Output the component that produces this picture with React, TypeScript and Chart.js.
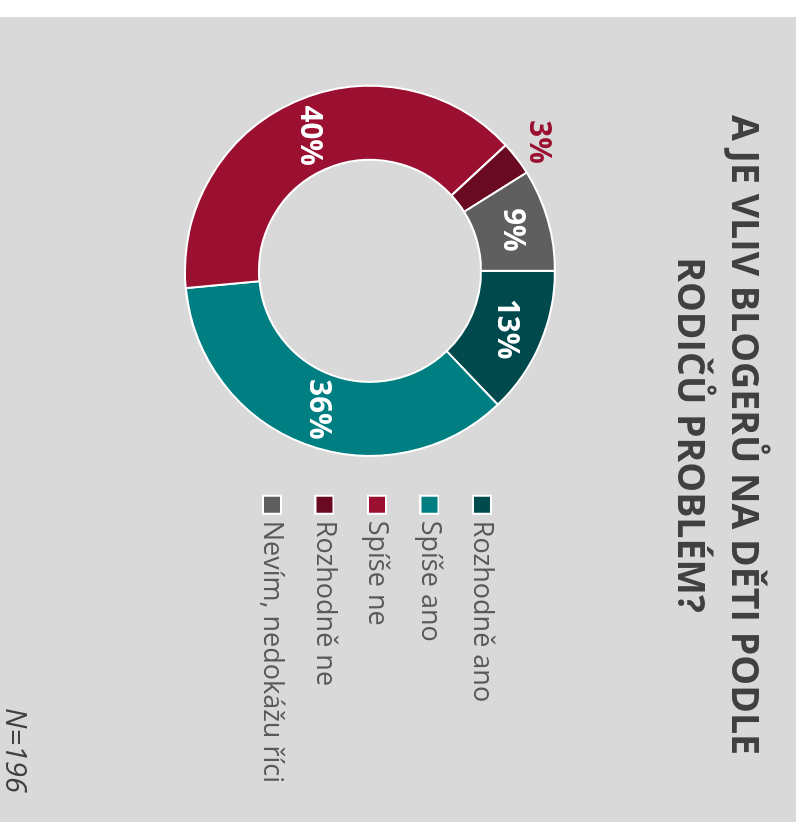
import React, { useEffect, useRef } from 'react';
import { Chart, registerables } from 'chart.js';

Chart.register(...registerables);

const categories = ['Rozhodně ano', 'Spíše ano', 'Spíše ne', 'Rozhodně ne', 'Nevím, nedokážu říci'];
const values = [13, 36, 40, 3, 9];
const colors = ['#004a4e', '#007f82', '#9b0f30', '#6a0a22', '#5f5f5f'];
const titleLines = ['A JE VLIV BLOGERŮ NA DĚTI PODLE', 'RODIČŮ PROBLÉM?'];
const footnote = 'N=196';

const FONT = '"Open Sans", "DejaVu Sans", sans-serif';

// legend marker: a white-edged square drawn a little to the right of the marker slot
function makeMarker(color: string): HTMLCanvasElement {
  const c = document.createElement('canvas');
  c.width = 40;
  c.height = 20;
  const g = c.getContext('2d')!;
  g.fillStyle = color;
  g.strokeStyle = '#ffffff';
  g.lineWidth = 2;
  g.beginPath();
  g.rect(17, 1, 18, 18);
  g.fill();
  g.stroke();
  return c;
}

const sliceLabels = {
  id: 'sliceLabels',
  afterDatasetsDraw(chart: any) {
    const ctx = chart.ctx;
    const meta = chart.getDatasetMeta(0);
    const data = chart.data.datasets[0].data as number[];
    ctx.save();
    ctx.font = `bold 29.5px ${FONT}`;
    ctx.textAlign = 'center';
    ctx.textBaseline = 'middle';
    meta.data.forEach((arc: any, i: number) => {
      const p = arc.getProps(['x', 'y', 'startAngle', 'endAngle', 'innerRadius', 'outerRadius'], true);
      const mid = (p.startAngle + p.endAngle) / 2;
      const v = data[i];
      const outside = v < 5;
      const r = outside ? p.outerRadius + 27 : (p.innerRadius + p.outerRadius) / 2;
      ctx.fillStyle = outside ? colors[2] : '#ffffff';
      ctx.fillText(v + '%', p.x + Math.cos(mid) * r, p.y + Math.sin(mid) * r);
    });
    ctx.restore();
  },
};

export default function App() {
  const ref = useRef<HTMLCanvasElement>(null);
  useEffect(() => {
    if (!ref.current) return;
    const markers = colors.map(makeMarker);
    const baseGen = (Chart as any).overrides.doughnut.plugins.legend.labels.generateLabels;
    const chart = new Chart(ref.current, {
      type: 'doughnut',
      data: {
        labels: categories,
        datasets: [
          {
            data: values,
            backgroundColor: colors,
            borderColor: '#ffffff',
            borderWidth: 2,
            radius: 185,
            cutout: '60%',
          } as any,
        ],
      },
      options: {
        animation: false,
        responsive: false,
        maintainAspectRatio: false,
        layout: { padding: { left: 60, right: 29, top: 0, bottom: 0 } },
        plugins: {
          title: {
            display: true,
            text: titleLines,
            color: '#404040',
            font: { family: FONT, size: 37.5, weight: 'bold', lineHeight: 1.44 },
            padding: { top: 26, bottom: 30 },
          },
          subtitle: {
            display: true,
            position: 'bottom',
            align: 'end',
            text: footnote,
            color: '#404040',
            font: { family: FONT, size: 29, style: 'italic', lineHeight: 1 },
            padding: { top: 79, bottom: 0 },
          },
          legend: {
            position: 'right',
            align: 'start',
            title: {
              display: true,
              text: ' ',
              font: { family: FONT, size: 10, lineHeight: 1.2 },
              padding: { top: 263, bottom: 0 },
            },
            labels: {
              usePointStyle: true,
              pointStyleWidth: 17,
              boxWidth: 17,
              boxHeight: 17,
              padding: 25.5,
              color: '#595959',
              font: { family: FONT, size: 27 },
              generateLabels: (ch: any) =>
                baseGen(ch).map((item: any, i: number) => ({ ...item, pointStyle: markers[i] })),
            },
          },
          tooltip: { enabled: false },
        },
      } as any,
      plugins: [sliceLabels],
    });
    return () => chart.destroy();
  }, []);

  return (
    <div
      style={{
        position: 'absolute',
        left: 0,
        top: 17,
        width: 805,
        height: 796,
        background: '#d9d9d9',
        transformOrigin: 'top left',
        transform: 'translate(796px, 0) rotate(90deg)',
      }}
    >
      <canvas ref={ref} width={805} height={796} style={{ display: 'block', width: 805, height: 796 }} />
    </div>
  );
}
